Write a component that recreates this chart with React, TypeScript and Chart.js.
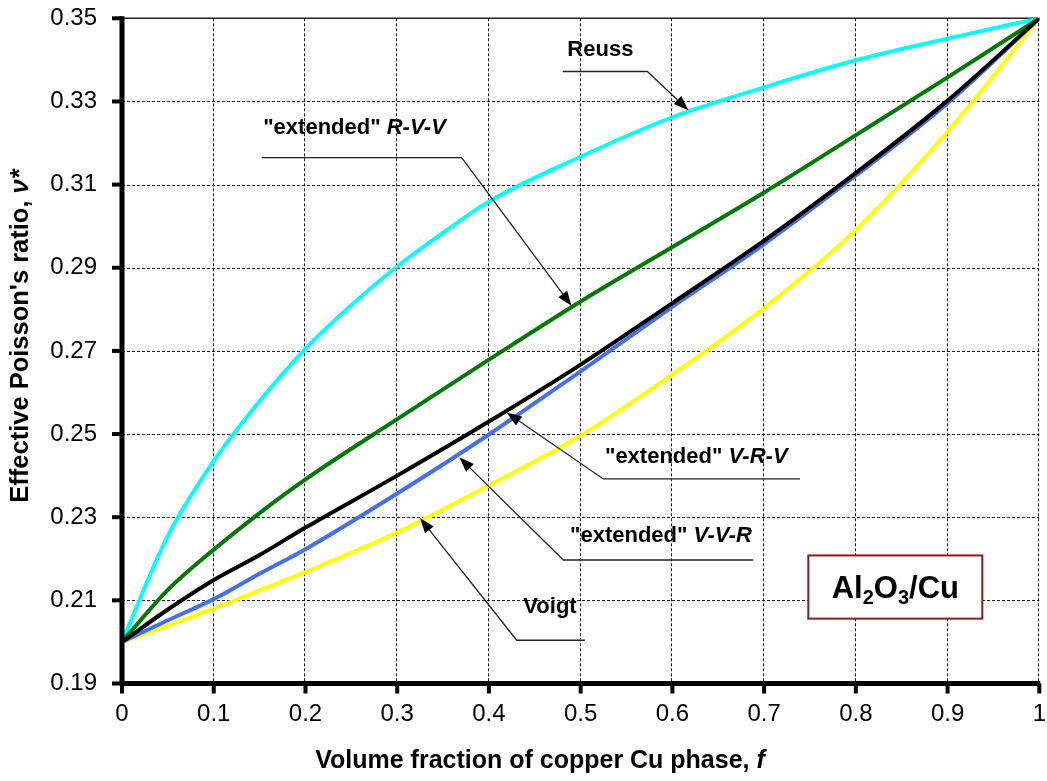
import React, { useEffect, useRef } from "react";
import { Chart, registerables } from "chart.js";

Chart.register(...registerables);

// ---- data ----
const F_REUSS = [0, 0.05, 0.1, 0.15, 0.2, 0.25, 0.3, 0.35, 0.4, 0.5, 0.6, 0.7, 0.8, 0.9, 1];
const REUSS = [0.2, 0.2255, 0.2435, 0.2579, 0.2705, 0.281, 0.2903, 0.2984, 0.3059, 0.3167, 0.3262, 0.3334, 0.3399, 0.3451, 0.35];

const F = [0, 0.05, 0.1, 0.15, 0.2, 0.3, 0.4, 0.5, 0.6, 0.7, 0.8, 0.9, 1];
const EXT_RVV = [0.2, 0.2125, 0.2222, 0.231, 0.2391, 0.2536, 0.2679, 0.2819, 0.295, 0.3081, 0.3219, 0.3358, 0.35];
const EXT_VRV = [0.2, 0.2078, 0.2149, 0.2209, 0.2275, 0.24, 0.253, 0.2667, 0.2815, 0.2965, 0.3128, 0.3302, 0.35];
const EXT_VVR = [0.2, 0.2052, 0.2103, 0.2164, 0.2223, 0.2357, 0.2499, 0.2651, 0.2806, 0.2957, 0.3122, 0.3296, 0.35];
const VOIGT = [0.2, 0.2039, 0.208, 0.2124, 0.2168, 0.2263, 0.2376, 0.2496, 0.2643, 0.2803, 0.2991, 0.3227, 0.35];

const X_TICKS = [0, 0.1, 0.2, 0.3, 0.4, 0.5, 0.6, 0.7, 0.8, 0.9, 1];
const X_TICK_LABELS = ["0", "0.1", "0.2", "0.3", "0.4", "0.5", "0.6", "0.7", "0.8", "0.9", "1"];
const Y_TICKS = [0.19, 0.21, 0.23, 0.25, 0.27, 0.29, 0.31, 0.33, 0.35];
const Y_TICK_LABELS = ["0.19", "0.21", "0.23", "0.25", "0.27", "0.29", "0.31", "0.33", "0.35"];

const X_TITLE = "Volume fraction of copper Cu phase, ";
const X_TITLE_ITALIC = "f";
const Y_TITLE = "Effective Poisson's ratio, ";
const Y_TITLE_ITALIC = "\u03bd*";

// annotation labels (positions in data units)
type Part = { t: string; i?: boolean };
type Ann = { parts: Part[]; at: [number, number]; path: [number, number][] };
const ANNOTATIONS: Ann[] = [
  { parts: [{ t: "Reuss" }], at: [0.4855, 0.3423], path: [[0.4805, 0.3372], [0.5727, 0.3372], [0.6175, 0.3279]] },
  { parts: [{ t: "\"extended\" " }, { t: "R-V-V", i: true }], at: [0.1539, 0.3236], path: [[0.1523, 0.3165], [0.3703, 0.3165], [0.4902, 0.2808]] },
  { parts: [{ t: "\"extended\" " }, { t: "V-R-V", i: true }], at: [0.5265, 0.2445], path: [[0.7391, 0.2392], [0.5247, 0.2392], [0.4194, 0.2552]] },
  { parts: [{ t: "\"extended\" " }, { t: "V-V-R", i: true }], at: [0.4884, 0.2256], path: [[0.6882, 0.2197], [0.4811, 0.2197], [0.3677, 0.2444]] },
  { parts: [{ t: "Voigt" }], at: [0.4375, 0.2084], path: [[0.5046, 0.2004], [0.4303, 0.2004], [0.3249, 0.2298]] },
];
const BOX = { x1: 0.7482, y1: 0.2208, x2: 0.9379, y2: 0.2056 };

const FONT = "'Liberation Sans', Arial, Helvetica, sans-serif";

function drawParts(ctx: CanvasRenderingContext2D, parts: Part[], x: number, y: number, size: number, align: "left" | "center") {
  const fonts = parts.map((p) => `${p.i ? "italic " : ""}bold ${size}px ${FONT}`);
  let total = 0;
  const widths = parts.map((p, k) => {
    ctx.font = fonts[k];
    const w = ctx.measureText(p.t).width;
    total += w;
    return w;
  });
  let cx = align === "center" ? x - total / 2 : x;
  ctx.textAlign = "left";
  ctx.textBaseline = "middle";
  parts.forEach((p, k) => {
    ctx.font = fonts[k];
    ctx.fillText(p.t, cx, y);
    cx += widths[k];
  });
}

const decorPlugin = {
  id: "decor",
  beforeDatasetsDraw(chart: any) {
    const { ctx, chartArea, scales } = chart;
    const { left, right, top, bottom } = chartArea;
    ctx.save();
    ctx.strokeStyle = "#1a1a1a";
    ctx.lineWidth = 1;
    ctx.setLineDash([3, 2]);
    X_TICKS.forEach((v) => {
      if (v === X_TICKS[0]) return;
      const X = Math.round(scales.x.getPixelForValue(v)) - 0.5;
      ctx.beginPath();
      ctx.moveTo(X, top);
      ctx.lineTo(X, bottom);
      ctx.stroke();
    });
    Y_TICKS.forEach((v, k) => {
      if (k === 0 || k === Y_TICKS.length - 1) return;
      const Y = Math.round(scales.y.getPixelForValue(v)) + 0.5;
      ctx.beginPath();
      ctx.moveTo(left, Y);
      ctx.lineTo(right, Y);
      ctx.stroke();
    });
    ctx.setLineDash([]);
    ctx.lineWidth = 1.5;
    ctx.strokeStyle = "#222";
    ctx.beginPath();
    ctx.moveTo(left, top);
    ctx.lineTo(right, top);
    ctx.stroke();
    ctx.restore();
  },
  afterDatasetsDraw(chart: any) {
    const { ctx, chartArea, scales } = chart;
    const { left, right, top, bottom } = chartArea;
    const px = (v: number) => scales.x.getPixelForValue(v);
    const py = (v: number) => scales.y.getPixelForValue(v);
    ctx.save();
    ctx.setLineDash([]);
    // axes
    ctx.strokeStyle = "#000";
    ctx.lineWidth = 5;
    ctx.beginPath();
    ctx.moveTo(left, top - 2);
    ctx.lineTo(left, bottom + 2.5);
    ctx.moveTo(left - 2.5, bottom);
    ctx.lineTo(right + 1, bottom);
    ctx.stroke();
    ctx.lineWidth = 4;
    Y_TICKS.forEach((v) => {
      const Y = py(v);
      ctx.beginPath();
      ctx.moveTo(left - 10, Y);
      ctx.lineTo(left, Y);
      ctx.stroke();
    });
    X_TICKS.forEach((v) => {
      const X = px(v);
      ctx.beginPath();
      ctx.moveTo(X, bottom);
      ctx.lineTo(X, bottom + 10);
      ctx.stroke();
    });

    // tick labels
    ctx.fillStyle = "#000";
    ctx.font = `24px ${FONT}`;
    ctx.textBaseline = "middle";
    ctx.textAlign = "right";
    Y_TICKS.forEach((v, k) => ctx.fillText(Y_TICK_LABELS[k], left - 25, py(v)));
    ctx.textAlign = "center";
    X_TICKS.forEach((v, k) => ctx.fillText(X_TICK_LABELS[k], px(v), bottom + 31));

    // annotations
    ANNOTATIONS.forEach((a) => {
      const pts = a.path.map(([fx, fy]) => [px(fx), py(fy)]);
      const n = pts.length;
      const [tx, ty] = pts[n - 1];
      const [ex, ey] = pts[n - 2];
      const ang = Math.atan2(ty - ey, tx - ex);
      const hl = 15;
      const hw = 5.5;
      const bx = tx - hl * Math.cos(ang);
      const by = ty - hl * Math.sin(ang);
      ctx.strokeStyle = "#222";
      ctx.lineWidth = 1.3;
      ctx.beginPath();
      ctx.moveTo(pts[0][0], pts[0][1]);
      for (let k = 1; k < n - 1; k++) ctx.lineTo(pts[k][0], pts[k][1]);
      ctx.lineTo(bx, by);
      ctx.stroke();
      ctx.fillStyle = "#000";
      ctx.beginPath();
      ctx.moveTo(tx, ty);
      ctx.lineTo(bx + hw * Math.sin(ang), by - hw * Math.cos(ang));
      ctx.lineTo(bx - hw * Math.sin(ang), by + hw * Math.cos(ang));
      ctx.closePath();
      ctx.fill();
      ctx.fillStyle = "#000";
      drawParts(ctx, a.parts, px(a.at[0]), py(a.at[1]), 22, "left");
    });

    // material box
    const bx1 = px(BOX.x1), by1 = py(BOX.y1), bx2 = px(BOX.x2), by2 = py(BOX.y2);
    ctx.fillStyle = "#fff";
    ctx.fillRect(bx1, by1, bx2 - bx1, by2 - by1);
    ctx.strokeStyle = "#8b1a1a";
    ctx.lineWidth = 2;
    ctx.strokeRect(bx1, by1, bx2 - bx1, by2 - by1);
    const segs = [
      { t: "Al", sub: false },
      { t: "2", sub: true },
      { t: "O", sub: false },
      { t: "3", sub: true },
      { t: "/Cu", sub: false },
    ];
    const big = `bold 31px ${FONT}`;
    const small = `bold 20px ${FONT}`;
    let tw = 0;
    const ws = segs.map((s) => {
      ctx.font = s.sub ? small : big;
      const w = ctx.measureText(s.t).width;
      tw += w;
      return w;
    });
    let cx = (bx1 + bx2) / 2 - tw / 2;
    const base = (by1 + by2) / 2 + 11;
    ctx.fillStyle = "#000";
    ctx.textAlign = "left";
    ctx.textBaseline = "alphabetic";
    segs.forEach((s, k) => {
      ctx.font = s.sub ? small : big;
      ctx.fillText(s.t, cx, s.sub ? base + 6 : base);
      cx += ws[k];
    });

    // axis titles
    ctx.fillStyle = "#000";
    drawParts(ctx, [{ t: X_TITLE }, { t: X_TITLE_ITALIC, i: true }], 540, 761, 25, "center");
    ctx.save();
    ctx.translate(21, 336);
    ctx.rotate(-Math.PI / 2);
    drawParts(ctx, [{ t: Y_TITLE }, { t: Y_TITLE_ITALIC, i: true }], 0, 0, 25.5, "center");
    ctx.restore();
    ctx.restore();
  },
};

function toPoints(xs: number[], ys: number[]) {
  return xs.map((x, i) => ({ x, y: ys[i] }));
}

export default function App() {
  const ref = useRef<HTMLCanvasElement | null>(null);
  useEffect(() => {
    if (!ref.current) return;
    const line = (label: string, data: any[], color: string) => ({
      label,
      data,
      borderColor: color,
      backgroundColor: color,
      borderWidth: 4,
      pointRadius: 0,
      cubicInterpolationMode: "monotone" as const,
      borderJoinStyle: "round" as const,
      borderCapStyle: "round" as const,
      fill: false,
    });
    const chart = new Chart(ref.current, {
      type: "line",
      data: {
        datasets: [
          line("\"extended\" V-R-V", toPoints(F, EXT_VRV), "#000000"),
          line("\"extended\" V-V-R", toPoints(F, EXT_VVR), "#4470f0"),
          line("\"extended\" R-V-V", toPoints(F, EXT_RVV), "#007a00"),
          line("Reuss", toPoints(F_REUSS, REUSS), "#00ffff"),
          line("Voigt", toPoints(F, VOIGT), "#ffff00"),
        ],
      },
      options: {
        responsive: false,
        devicePixelRatio: 1,
        animation: false,
        events: [],
        layout: { padding: { top: 18.3, right: 7.7, left: 0, bottom: 0 } },
        plugins: { legend: { display: false }, tooltip: { enabled: false }, title: { display: false } },
        scales: {
          x: {
            type: "linear",
            min: 0,
            max: 1,
            afterBuildTicks: (s: any) => {
              s.ticks = X_TICKS.map((v) => ({ value: v }));
            },
            afterFit: (s: any) => {
              s.height = 97.5;
            },
            grid: { display: false, drawTicks: false },
            border: { display: false },
            ticks: { display: false },
          },
          y: {
            type: "linear",
            min: 0.19,
            max: 0.35,
            afterBuildTicks: (s: any) => {
              s.ticks = Y_TICKS.map((v) => ({ value: v }));
            },
            afterFit: (s: any) => {
              s.width = 122;
            },
            grid: { display: false, drawTicks: false },
            border: { display: false },
            ticks: { display: false },
          },
        },
      },
      plugins: [decorPlugin],
    });
    return () => chart.destroy();
  }, []);
  return (
    <div style={{ position: "absolute", left: 0, top: 0, width: 1047, height: 781, background: "#fff" }}>
      <canvas ref={ref} width={1047} height={781} style={{ display: "block" }} />
    </div>
  );
}
